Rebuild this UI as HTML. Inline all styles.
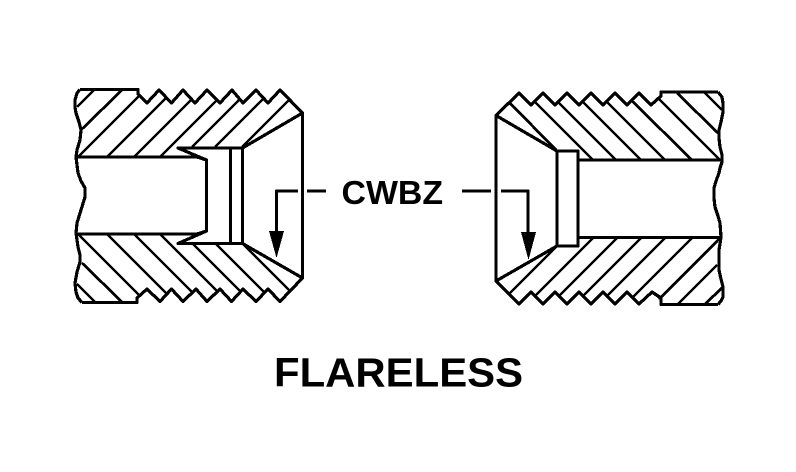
<!DOCTYPE html>
<html><head><meta charset="utf-8"><style>html,body{margin:0;padding:0;background:#fff}svg{display:block}</style></head><body>
<svg width="796" height="472" viewBox="0 0 796 472" xmlns="http://www.w3.org/2000/svg" shape-rendering="crispEdges">
<g fill="none" stroke="#000" stroke-width="3.2" stroke-linejoin="round">
<!-- left outline -->
<path d="M80 89.500H138V94L147 103L159 90L171.500 103L183 90L195 103L207 90L220 103L232 90L243 103L256 90L268 103L280 90L302.500 113V278L280 301.500L268 289L256 301.500L243 289L231.500 301.500L220 289L207 301.500L196 289L183 301.500L171.500 289L160 301.500L147 289L137 298V302.500H82"/>
<polyline points="80,89.500 77,93 75,100 75,107 76,113 79,122 81,130 80,140 77,150 76,157 77,165 78,173 81,181 85,188 85,197 81,210 77,223 76,233 77,240 78,247 80,255 80,262 77,272 75,283 76,292 78,298 82,302.500"/>
<path d="M76 157H197L206.500 160V231L178 243.500H242.500V148H178L206.500 160"/>
<path d="M76 234H197L206.500 231"/>
<path d="M230.500 148V243.500M242.500 148L302.500 113M242.500 243.500L302.500 278"/>
<!-- right outline -->
<path d="M718 92H661V96L651 105L639 93L627 105L615 93L603 105L591 93L579 105L567 93L555 105L543 93L531 105L519 93L496 115.500V281L519 304L531 292L543 304L555 292L567 304L579 292L591 304L603 292L615 304L627 292L639 304L652 292L661 298V304.500H718"/>
<polyline points="718,92 722,97 723,103 723,112 721,122 719,130 719,138 720,147 722,155 722,162 720,168 719,173 716,181 714,188 714,198 715,207 718,216 720,223 721,237 720,244 719,250 719,260 719,270 721,279 723,287 723,297 721,301 718,304.500"/>
<path d="M578 160H721M578 237.500H721"/>
<rect x="557" y="151" width="21" height="95"/>
<path d="M496 115.500L557 151M496 281L557 246"/>
<!-- leaders -->
<path d="M276.500 232V191H298M307 191H326M462 191H491M501 191H528V232"/>
</g>
<g fill="none" stroke="#000" stroke-width="2.800">
<path d="M78 157L140 95M107 157L166.500 97.500M134 157L192 99M160 157L217 100M192 147L240 99M215 147L264 98M242 147L289.500 99.500M77 107L94 90M82 129L122 90"/>
<path d="M78 234L140 296M107 234L167 294M134 234L192.500 292.500M160 234L217.500 291.500M192 243L241 292M215 243L265 293M242 243L290.500 291.500M82 263L122 302M77 284L95 302"/>
<path d="M509 102L557 151M534.500 101.500L593 160M558 102L616 160M582.500 101.500L641 160M606.500 101.500L665 160M631.500 100.500L692 160M658 98L720 160M677 93L718 133M705 93L722 110"/>
<path d="M509 294L556 247M535 296L593 238M559 296L617 238M583 296L641 238M607 296L665 238M632.500 297.500L692 238M659 299.500L720 238M678 304L717 265M705 304L722 288"/>
</g>
<path d="M269 231H284L276.500 258Z M521 232H536L528.500 260Z" fill="#000"/>
<text x="341.500" y="204" font-family="'Liberation Sans',sans-serif" font-weight="700" font-size="33.500" textLength="101.500" lengthAdjust="spacingAndGlyphs" fill="#000">CWBZ</text>
<text x="274" y="386.500" font-family="'Liberation Sans',sans-serif" font-weight="700" font-size="40.500" textLength="249" lengthAdjust="spacingAndGlyphs" fill="#000">FLARELESS</text>
</svg>
</body></html>
